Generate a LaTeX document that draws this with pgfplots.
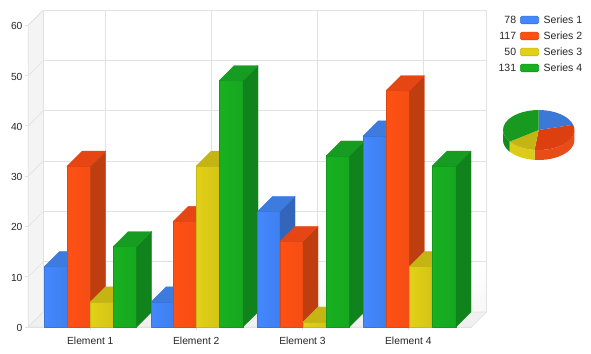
\documentclass[border=0pt]{standalone}
\usepackage{fontspec}
\setmainfont{Liberation Sans}
\usepackage{pgfplots}
\pgfplotsset{compat=1.18}
\definecolor{gridc}{HTML}{E2E2E2}
\definecolor{wallc}{HTML}{F4F4F4}
\definecolor{floorc}{HTML}{F0F0F0}
\definecolor{bF}{HTML}{4488FF}\definecolor{bG}{HTML}{3F7FEE}\definecolor{bS}{HTML}{3366BB}\definecolor{bT}{HTML}{3D7BDF}\definecolor{bE}{HTML}{3A74D8}
\definecolor{rF}{HTML}{FF5014}\definecolor{rG}{HTML}{F54E14}\definecolor{rS}{HTML}{BF3E10}\definecolor{rT}{HTML}{E54614}\definecolor{rE}{HTML}{E04812}
\definecolor{yF}{HTML}{E2D018}\definecolor{yG}{HTML}{D4C416}\definecolor{yS}{HTML}{A89A12}\definecolor{yT}{HTML}{C4B414}\definecolor{yE}{HTML}{C8B814}
\definecolor{gF}{HTML}{18B020}\definecolor{gG}{HTML}{16A820}\definecolor{gS}{HTML}{11831C}\definecolor{gT}{HTML}{169C20}\definecolor{gE}{HTML}{12981C}
\definecolor{pieB}{HTML}{3C78D8}
\definecolor{pieR}{HTML}{DC4010}\definecolor{pieRs}{HTML}{E84C18}
\definecolor{pieY}{HTML}{C4B414}\definecolor{pieYs}{HTML}{DCCC18}
\definecolor{pieG}{HTML}{189A20}\definecolor{pieGs}{HTML}{128A1C}
% bar: x0, x1, value, colour prefix
\newcommand{\barthree}[4]{%
  \addplot[draw=#4E,line width=.6pt,left color=#4F,right color=#4G,forget plot] coordinates {(#1,0)(#2,0)(#2,#3)(#1,#3)} -- cycle;
  \addplot[draw=#4S,line width=.3pt,fill=#4S,forget plot] coordinates {(#2,0)(#2+15,2.98)(#2+15,#3+2.98)(#2,#3)} -- cycle;
  \addplot[draw=#4T,line width=.3pt,fill=#4T,forget plot] coordinates {(#1,#3)(#2,#3)(#2+15,#3+2.98)(#1+15,#3+2.98)} -- cycle;
}
% pie pieces: start angle, end angle, colour
\newcommand{\pietop}[3]{\fill[#3] (pc) -- ++(#1:35.7pt and 20pt) arc[start angle=#1,end angle=#2,x radius=35.7pt,y radius=20pt] -- cycle;}
\newcommand{\pieside}[3]{\fill[#3] (pc) ++(#1:35.7pt and 20pt) -- ++(0pt,-10pt) arc[start angle=#1,end angle=#2,x radius=35.7pt,y radius=20pt] -- ++(0pt,10pt) arc[start angle=#2,end angle=#1,x radius=35.7pt,y radius=20pt] -- cycle;}
\begin{document}
\begin{tikzpicture}[x=1pt,y=1pt]
\begin{axis}[
  at={(28.3pt,27pt)},anchor=origin,
  scale only axis,width=443.4pt,height=301.8pt,
  xmin=28.3,xmax=471.7,ymin=0,ymax=60,
  clip=false,
  axis line style={draw=none},
  xtick={90.3,196.3,302.5,408.3},
  xticklabels={Element 1,Element 2,Element 3,Element 4},
  ytick={0,10,20,30,40,50,60},
  tick style={draw=gridc,line width=.7pt},
  tick align=outside,
  major tick length=3pt,
  xtick pos=bottom,ytick pos=left,
  ticklabel style={font=\fontsize{10.3}{12}\selectfont,text=black!85},
  /pgf/number format/assume math mode=true,
  yticklabel style={xshift=0.7pt,yshift=-1pt},
  xticklabel style={yshift=-3.5pt},
  every axis plot/.append style={line join=round},
]
% page box
\path[use as bounding box] (axis cs:0,-5.368) rectangle (axis cs:591,65.01);
% walls
\addplot[draw=none,fill=white,forget plot] coordinates {(43.3,2.98)(486.7,2.98)(486.7,62.98)(43.3,62.98)} -- cycle;
\addplot[draw=none,top color=white,bottom color=black!3,forget plot] coordinates {(43.3,2.98)(486.7,2.98)(486.7,13)(43.3,13)} -- cycle;
\addplot[draw=gridc,fill=wallc,line width=.6pt,forget plot] coordinates {(28.3,0)(43.3,2.98)(43.3,62.98)(28.3,60)} -- cycle;
\addplot[draw=gridc,fill=floorc,line width=.6pt,forget plot] coordinates {(28.3,0)(471.7,0)(486.7,2.98)(43.3,2.98)} -- cycle;
% grid
\pgfplotsinvokeforeach{12.98,22.98,32.98,42.98,52.98,62.98}{
  \addplot[gridc,line width=.7pt,forget plot] coordinates {(43.3,#1)(486.7,#1)};
}
\pgfplotsinvokeforeach{10,20,30,40,50,60}{
  \addplot[gridc,line width=.6pt,forget plot] coordinates {(28.3,#1)(43.3,#1+2.98)};
}
\pgfplotsinvokeforeach{43.3,105.3,211.3,317.5,423.3,486.7}{
  \addplot[gridc,line width=.7pt,forget plot] coordinates {(#1,2.98)(#1,62.98)};
}
\addplot[gridc,line width=.7pt,forget plot] coordinates {(28.3,0)(471.7,0)};
% bars
\barthree{44.3}{67.2}{12}{b}\barthree{67.2}{90.5}{32}{r}\barthree{90.5}{113.2}{5}{y}\barthree{113.2}{136.7}{16}{g}
\barthree{151}{173.2}{5}{b}\barthree{173.2}{196.2}{21}{r}\barthree{196.2}{219.2}{32}{y}\barthree{219.2}{243}{49}{g}
\barthree{257.5}{280}{23}{b}\barthree{280}{303}{17}{r}\barthree{303}{326}{1}{y}\barthree{326}{349.3}{34}{g}
\barthree{363.3}{386}{38}{b}\barthree{386}{409.3}{47}{r}\barthree{409.3}{432}{12}{y}\barthree{432}{456}{32}{g}
% legend
\foreach \v/\s/\c/\yy in {78/1/b/20,117/2/r/36,50/3/y/52,131/4/g/68}{
  \edef\tmp{\noexpand\node[anchor=east,inner sep=0pt,font=\noexpand\fontsize{10.5}{12}\noexpand\selectfont,text=black!85] at (axis cs:516.3,{(327-\yy)/5.03}) {\v};
  \noexpand\node[anchor=west,inner sep=0pt,font=\noexpand\fontsize{10.5}{12}\noexpand\selectfont,text=black!85] at (axis cs:543.5,{(327-\yy)/5.03}) {Series \s};
  \noexpand\draw[draw=\c E,line width=.6pt,fill=\c F,rounded corners=1.5pt] (axis cs:520.3,{(327-\yy+3.8)/5.03}) rectangle (axis cs:538.7,{(327-\yy-3.8)/5.03});}
  \tmp
}
% pie: slices 78, 117, 50, 131 of 376, clockwise from the top
\coordinate (pc) at (axis cs:538.7,39.16);
\pieside{0}{-96.7}{pieRs}
\pieside{-96.7}{-144.6}{pieYs}
\pieside{-144.6}{-180}{pieGs}
\pietop{90}{15.3}{pieB}
\pietop{15.3}{-96.7}{pieR}
\pietop{-96.7}{-144.6}{pieY}
\pietop{-144.6}{-270}{pieG}
\end{axis}
\end{tikzpicture}
\end{document}
